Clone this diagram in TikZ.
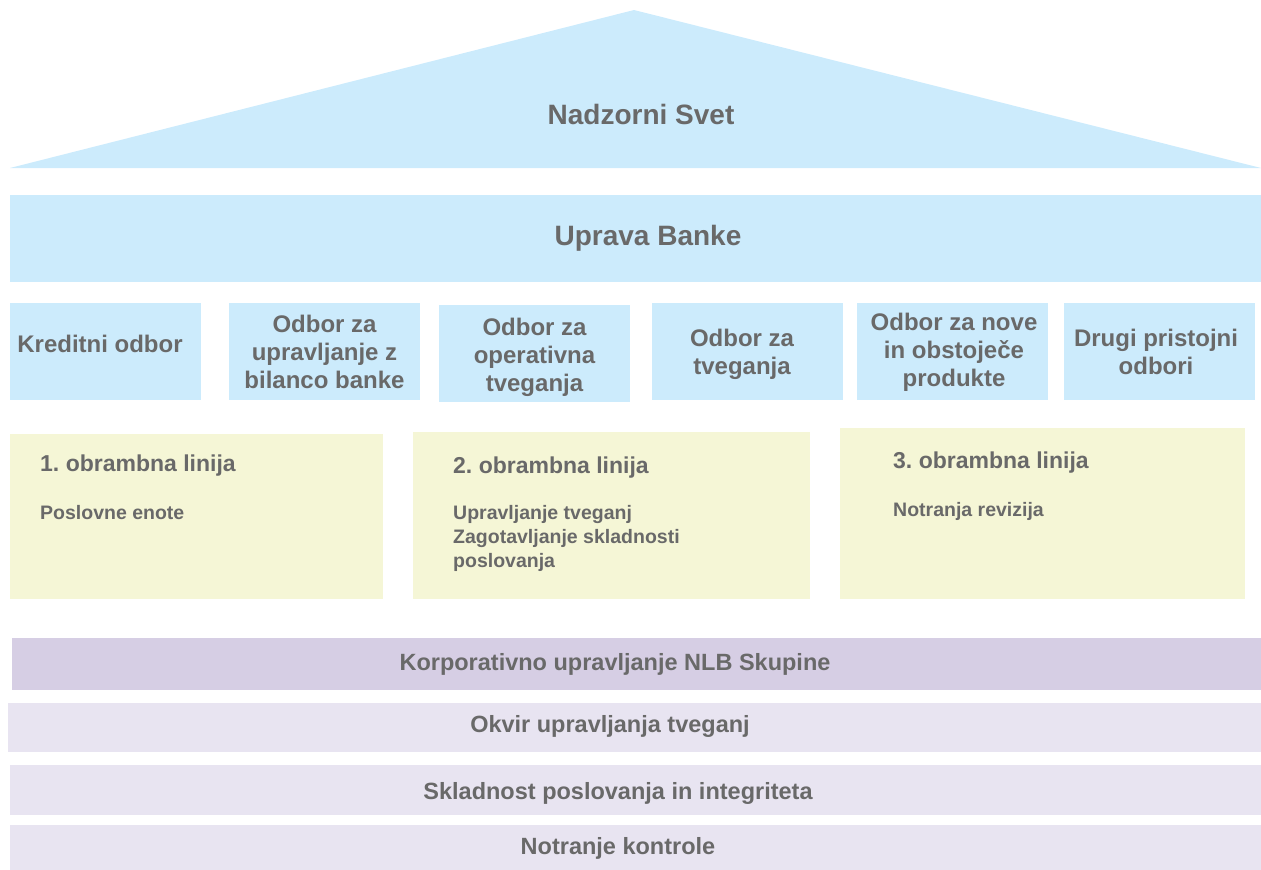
\documentclass[tikz,border=0pt]{standalone}
\usepackage{fontspec}
\setmainfont{Liberation Sans}
\frenchspacing
\definecolor{lblue}{RGB}{204,235,252}
\definecolor{lyel}{RGB}{245,246,214}
\definecolor{dpur}{RGB}{214,206,228}
\definecolor{lpur}{RGB}{232,228,241}
\definecolor{tgray}{RGB}{105,105,105}
\tikzset{
  base/.style={draw=none, inner sep=0pt, outer sep=0pt},
  cbox/.style={base, fill=lblue, minimum width=191pt, minimum height=97pt},
  ctext/.style={inner sep=0pt, align=center, text=tgray, font=\bfseries\fontsize{24}{28}\selectfont},
  dbox/.style={base, fill=lyel},
  dhead/.style={inner sep=0pt, anchor=base west, text=tgray, font=\bfseries\fontsize{23}{28}\selectfont},
  dsub/.style={inner sep=0pt, anchor=base west, align=left, text=tgray, font=\bfseries\fontsize{19.5}{24}\selectfont},
  bar/.style={base, fill=lpur},
  bartext/.style={inner sep=0pt, text=tgray, font=\bfseries\fontsize{23.5}{26}\selectfont},
  bigtext/.style={inner sep=0pt, text=tgray, font=\bfseries\fontsize{28}{32}\selectfont}
}
\begin{document}
\begin{tikzpicture}[x=1pt,y=-1pt]
\useasboundingbox (0,0) rectangle (1261,870);
% roof
\fill[lblue] (10,168) -- (634,10) -- (1261,168) -- cycle;
\coordinate (roof) at (641,114);
\node[bigtext] (nadzor) at (roof) {Nadzorni Svet};
% management board
\node[base, fill=lblue, minimum width=1251pt, minimum height=87pt] (uprava) at (635.5,238.5) {};
\node[bigtext] (upravat) at (648,238) {Uprava Banke};
% committees
\node[cbox] (k1) at (105.5,351.5) {};
\node[ctext] (k1t) at (100,344) {Kreditni odbor};
\node[cbox] (k2) at (324.5,351.5) {};
\node[ctext] (k2t) at (k2.center) {Odbor za\\upravljanje z\\bilanco banke};
\node[cbox] (k3) at (534.5,353.5) {};
\node[ctext] (k3t) at (534.5,357) {Odbor za\\operativna\\tveganja};
\node[cbox] (k4) at (747.5,351.5) {};
\node[ctext] (k4t) at (742,354) {Odbor za\\tveganja};
\node[cbox] (k5) at (952.5,351.5) {};
\node[ctext] (k5t) at (954,352) {Odbor za nove\\in obstoječe\\produkte};
\node[cbox] (k6) at (1159,351.5) {};
\node[ctext] (k6t) at (1156,351.5) {Drugi pristojni\\odbori};
% lines of defence
\node[dbox, minimum width=373pt, minimum height=165pt] (d1) at (196.5,516.5) {};
\node[dhead] (d1h) at (40,471) {1. obrambna linija};
\node[dsub] (d1s) at (40,519) {Poslovne enote};
\node[dbox, minimum width=397pt, minimum height=167pt] (d2) at (611.5,515.5) {};
\node[dhead] (d2h) at (453,473) {2. obrambna linija};
\node[dsub, anchor=north west] (d2s) at (453,505) {Upravljanje tveganj\\Zagotavljanje skladnosti\\poslovanja};
\node[dbox, minimum width=405pt, minimum height=171pt] (d3) at (1042.5,513.5) {};
\node[dhead] (d3h) at (893,468) {3. obrambna linija};
\node[dsub] (d3s) at (893,516) {Notranja revizija};
% bars
\node[bar, fill=dpur, minimum width=1249pt, minimum height=52pt] (b1) at (636.5,664) {};
\node[bartext] (b1t) at (615,664) {Korporativno upravljanje NLB Skupine};
\node[bar, minimum width=1253pt, minimum height=49pt] (b2) at (634.5,727.5) {};
\node[bartext] (b2t) at (610,726) {Okvir upravljanja tveganj};
\node[bar, minimum width=1251pt, minimum height=50pt] (b3) at (635.5,790) {};
\node[bartext] (b3t) at (618,793) {Skladnost poslovanja in integriteta};
\node[bar, minimum width=1251pt, minimum height=45pt] (b4) at (635.5,847.5) {};
\node[bartext] (b4t) at (618,848) {Notranje kontrole};
\end{tikzpicture}
\end{document}
